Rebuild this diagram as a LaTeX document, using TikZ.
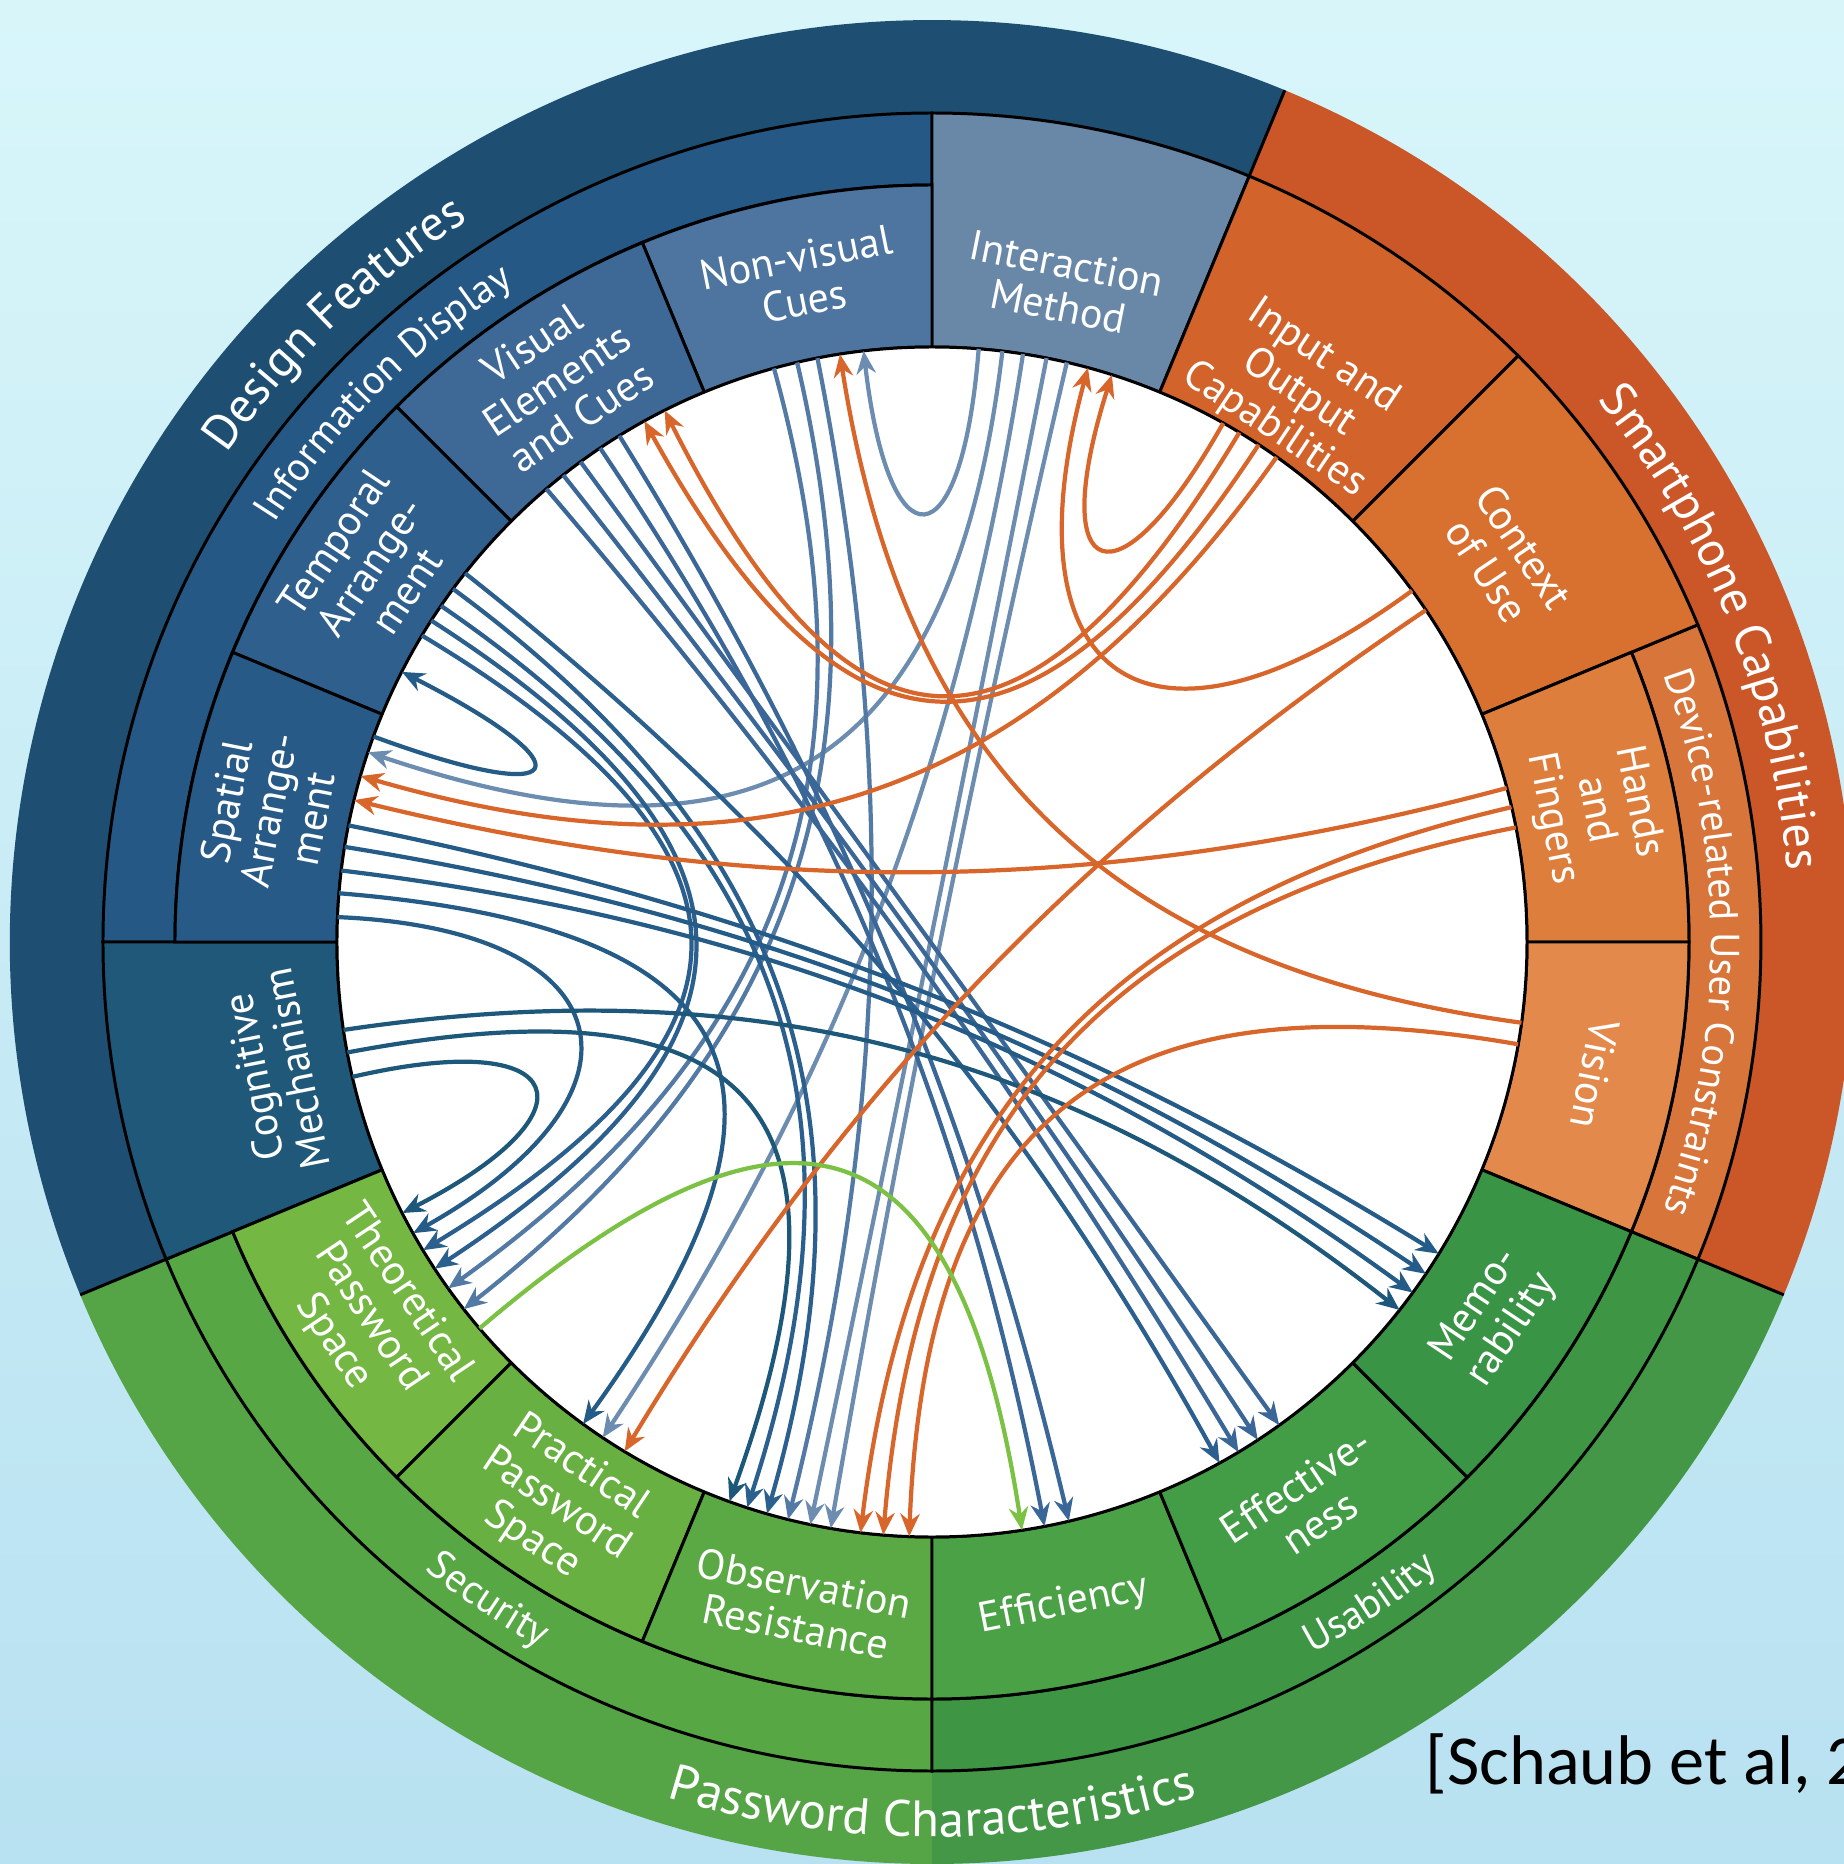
\documentclass[tikz,border=0pt]{standalone}
\usepackage{fontspec}
\setmainfont{PT Sans}
\newfontfamily\citefont{Carlito}
\usetikzlibrary{arrows.meta,calc,decorations.text}

\definecolor{bgtop}{HTML}{D8F6FA}
\definecolor{bgbot}{HTML}{B8E1F1}
\definecolor{dffill}{HTML}{1E4F72}
\definecolor{idfill}{HTML}{265886}
\definecolor{imfill}{HTML}{6987A7}
\definecolor{nvfill}{HTML}{4E74A0}
\definecolor{vefill}{HTML}{3E6895}
\definecolor{tafill}{HTML}{2E5F8D}
\definecolor{safill}{HTML}{285A87}
\definecolor{cmfill}{HTML}{1F5879}
\definecolor{scfill}{HTML}{CB5628}
\definecolor{ducfill}{HTML}{D8753A}
\definecolor{iofill}{HTML}{D2642B}
\definecolor{cufill}{HTML}{D87030}
\definecolor{hffill}{HTML}{DE7E3C}
\definecolor{vifill}{HTML}{E2894B}
\definecolor{pcleft}{HTML}{55A446}
\definecolor{pcright}{HTML}{439746}
\definecolor{secfill}{HTML}{58A745}
\definecolor{usafill}{HTML}{3E9645}
\definecolor{thfill}{HTML}{74B843}
\definecolor{prfill}{HTML}{68B042}
\definecolor{obfill}{HTML}{5BA944}
\definecolor{effill}{HTML}{4BA246}
\definecolor{evfill}{HTML}{439C46}
\definecolor{mefill}{HTML}{3A9446}
\definecolor{imline}{HTML}{6C8DB0}
\definecolor{nvline}{HTML}{527AA5}
\definecolor{veline}{HTML}{3A6797}
\definecolor{taline}{HTML}{2B5F8E}
\definecolor{saline}{HTML}{245B87}
\definecolor{cmline}{HTML}{1D587A}
\definecolor{orline}{HTML}{D8652A}
\definecolor{grline}{HTML}{7BC143}

\def\rin{5.95}
\def\rseg{7.57}
\def\rmid{8.29}
\def\rout{9.22}

\newcommand{\sector}[5]{\path[#1] (#2:#4) arc[start angle=#2, end angle=#3, radius=#4] -- (#3:#5) arc[start angle=#3, end angle=#2, radius=#5] -- cycle;}

\newcommand{\chord}[5]{%
  \coordinate (#2) at (#3:\rin);
  \coordinate (#4) at (#5:\rin);
  \pgfmathsetmacro{\cdiff}{mod(#5-#3+540,360)-180}
  \pgfmathsetmacro{\crad}{(0.3+3.5*max(0,cos(\cdiff/2)-0.9))*\rin}
  \draw[#1] (#2) .. controls (#3:\crad) and (#5:\crad) .. (#4);
}

\newcommand{\arctext}[5]{\path[decorate, decoration={text along path, text align=center, text color=white, text={|\fontsize{#4}{#4}\selectfont|#5}}] (#2:#1) arc[start angle=#2, end angle=#3, radius=#1];}

\tikzset{
  ring/.style={draw=black, line width=0.85pt},
  link/.style={line width=1.2pt, -{Stealth[length=6.5pt, width=5.5pt]}},
  seglabel/.style={text=white, align=center, inner sep=0pt, font=\fontsize{12}{12.5}\selectfont}
}

\begin{document}
\begin{tikzpicture}
  \useasboundingbox (-9.32,-9.22) rectangle (9.12,9.42);
  \shade[top color=bgtop, bottom color=bgbot] (-9.32,-9.22) rectangle (9.12,9.42);

  \sector{fill=dffill}{67.5}{202.5}{\rmid}{\rout}
  \sector{fill=scfill}{-22.5}{67.5}{\rmid}{\rout}
  \sector{fill=pcleft}{202.5}{270}{\rmid}{\rout}
  \sector{fill=pcright}{270}{337.5}{\rmid}{\rout}
  \draw[ring] (67.5:\rmid) -- (67.5:\rout);
  \draw[ring] (202.5:\rmid) -- (202.5:\rout);
  \draw[ring] (337.5:\rmid) -- (337.5:\rout);

  \sector{fill=idfill, ring}{90}{180}{\rseg}{\rmid}
  \sector{fill=ducfill, ring}{-22.5}{22.5}{\rseg}{\rmid}
  \sector{fill=secfill, ring}{202.5}{270}{\rseg}{\rmid}
  \sector{fill=usafill, ring}{270}{337.5}{\rseg}{\rmid}
  \sector{fill=imfill, ring}{67.5}{90}{\rin}{\rmid}
  \sector{fill=cmfill, ring}{180}{202.5}{\rin}{\rmid}
  \sector{fill=iofill, ring}{45}{67.5}{\rin}{\rmid}
  \sector{fill=cufill, ring}{22.5}{45}{\rin}{\rmid}

  \sector{fill=nvfill, ring}{90}{112.5}{\rin}{\rseg}
  \sector{fill=vefill, ring}{112.5}{135}{\rin}{\rseg}
  \sector{fill=tafill, ring}{135}{157.5}{\rin}{\rseg}
  \sector{fill=safill, ring}{157.5}{180}{\rin}{\rseg}
  \sector{fill=hffill, ring}{0}{22.5}{\rin}{\rseg}
  \sector{fill=vifill, ring}{-22.5}{0}{\rin}{\rseg}
  \sector{fill=thfill, ring}{202.5}{225}{\rin}{\rseg}
  \sector{fill=prfill, ring}{225}{247.5}{\rin}{\rseg}
  \sector{fill=obfill, ring}{247.5}{270}{\rin}{\rseg}
  \sector{fill=effill, ring}{270}{292.5}{\rin}{\rseg}
  \sector{fill=evfill, ring}{292.5}{315}{\rin}{\rseg}
  \sector{fill=mefill, ring}{315}{337.5}{\rin}{\rseg}

  \filldraw[fill=white, ring] (0,0) circle[radius=\rin];

  \chord{link, imline}{im1}{85.5}{nv4}{96.6}
  \chord{link, imline}{im2}{83.2}{sa7}{161.4}
  \chord{link, imline}{im3}{81.2}{pr2}{236.4}
  \chord{link, imline}{im4}{78.9}{ob5}{258.2}
  \chord{link, imline}{im5}{76.9}{ob6}{260.2}
  \chord{link, nvline}{nv1}{101.1}{ob4}{256}
  \chord{link, nvline}{nv2}{103.1}{th6}{218.1}
  \chord{link, nvline}{nv3}{105.4}{th5}{215.6}
  \chord{link, veline}{ve1}{121.7}{ef3}{283.3}
  \chord{link, veline}{ve2}{123.9}{ef2}{280.9}
  \chord{link, veline}{ve3}{126.2}{ev4}{305.7}
  \chord{link, veline}{ve4}{128.3}{ev3}{303.2}
  \chord{link, veline}{ve5}{130.4}{ev2}{301}
  \chord{link, taline}{ta1}{141.7}{ev1}{298.9}
  \chord{link, taline}{ta2}{143.6}{ob3}{253.9}
  \chord{link, taline}{ta3}{145.6}{ob2}{251.9}
  \chord{link, taline}{ta4}{147.3}{th4}{213.3}
  \chord{link, taline}{ta5}{149}{th3}{211.2}
  \chord{link, saline}{sa1}{159.8}{ta6}{153}
  \chord{link, saline}{sa2}{168.7}{me4}{328.4}
  \chord{link, saline}{sa3}{170.8}{me3}{326.1}
  \chord{link, saline}{sa4}{173.1}{me2}{323.9}
  \chord{link, saline}{sa5}{175.3}{pr1}{234.1}
  \chord{link, saline}{sa6}{177.6}{th2}{209.3}
  \chord{link, cmline}{cm1}{188.5}{me1}{321.8}
  \chord{link, cmline}{cm2}{190.7}{ob1}{250.1}
  \chord{link, cmline}{cm3}{193.1}{th1}{207.1}
  \chord{link, orline}{io1}{60.7}{imin2}{72.4}
  \chord{link, orline}{cu1}{36.2}{imin1}{74.8}
  \chord{link, orline}{io2}{58.9}{vein1}{116.7}
  \chord{link, orline}{io3}{56.7}{vein2}{118.9}
  \chord{link, orline}{io4}{54.6}{sain1}{163.8}
  \chord{link, orline}{hf1}{15}{sain2}{166.2}
  \chord{link, orline}{cu2}{33.9}{pr3}{238.9}
  \chord{link, orline}{hf2}{13.1}{ob7}{263.1}
  \chord{link, orline}{hf3}{11.1}{ob8}{265.3}
  \chord{link, orline}{vi1}{350.1}{ob9}{267.8}
  \chord{link, orline}{vi2}{352.2}{nvin}{98.9}
  \chord{link, grline}{th7}{220.5}{ef1}{278.7}

  \node[seglabel, rotate=-11.25] (imlab) at (78.75:6.7) {Interaction\\Method};
  \node[seglabel, rotate=11.25] (nvlab) at (101.25:6.76) {Non-visual\\Cues};
  \node[seglabel, rotate=33.75] (velab) at (123.75:6.76) {Visual\\Elements\\and Cues};
  \node[seglabel, rotate=56.25] (talab) at (146.25:6.76) {Temporal\\Arrange-\\ment};
  \node[seglabel, rotate=78.75] (salab) at (168.75:6.76) {Spatial\\Arrange-\\ment};
  \node[seglabel, rotate=101.25] (cmlab) at (191.25:6.7) {Cognitive\\Mechanism};
  \node[seglabel, rotate=-33.75] (iolab) at (56.25:6.6) {Input and\\Output\\Capabilities};
  \node[seglabel, rotate=-56.25] (culab) at (33.75:6.9) {Context\\of Use};
  \node[seglabel, rotate=-78.75] (hflab) at (11.25:6.76) {Hands\\and\\Fingers};
  \node[seglabel, rotate=258.75] (vilab) at (348.75:6.76) {Vision};
  \node[seglabel, rotate=303.75] (thlab) at (213.75:6.76) {Theoretical\\Password\\Space};
  \node[seglabel, rotate=326.25] (prlab) at (236.25:6.76) {Practical\\Password\\Space};
  \node[seglabel, rotate=348.75] (oblab) at (258.75:6.76) {Observation\\Resistance};
  \node[seglabel, rotate=11.25] (eflab) at (281.25:6.76) {Efficiency};
  \node[seglabel, rotate=33.75] (evlab) at (303.75:6.76) {Effective-\\ness};
  \node[seglabel, rotate=56.25] (melab) at (326.25:6.76) {Memo-\\rability};

  \arctext{8.58}{174}{94}{14}{Design Features}
  \arctext{8.58}{62}{-18}{14}{Smartphone Capabilities}
  \arctext{8.95}{225}{315}{14.5}{Password Characteristics}
  \arctext{7.79}{175}{95}{11.5}{Information Display}
  \arctext{7.79}{45}{-45}{11.5}{Device-related User Constraints}
  \arctext{8.07}{196}{276}{11.5}{Security}
  \arctext{8.07}{263.5}{343.5}{11.5}{Usability}

  \node[anchor=base west, inner sep=0pt, font=\citefont\fontsize{20}{20}\selectfont] (cite) at (4.93,-8.42) {[Schaub et al, 2};
\end{tikzpicture}
\end{document}
